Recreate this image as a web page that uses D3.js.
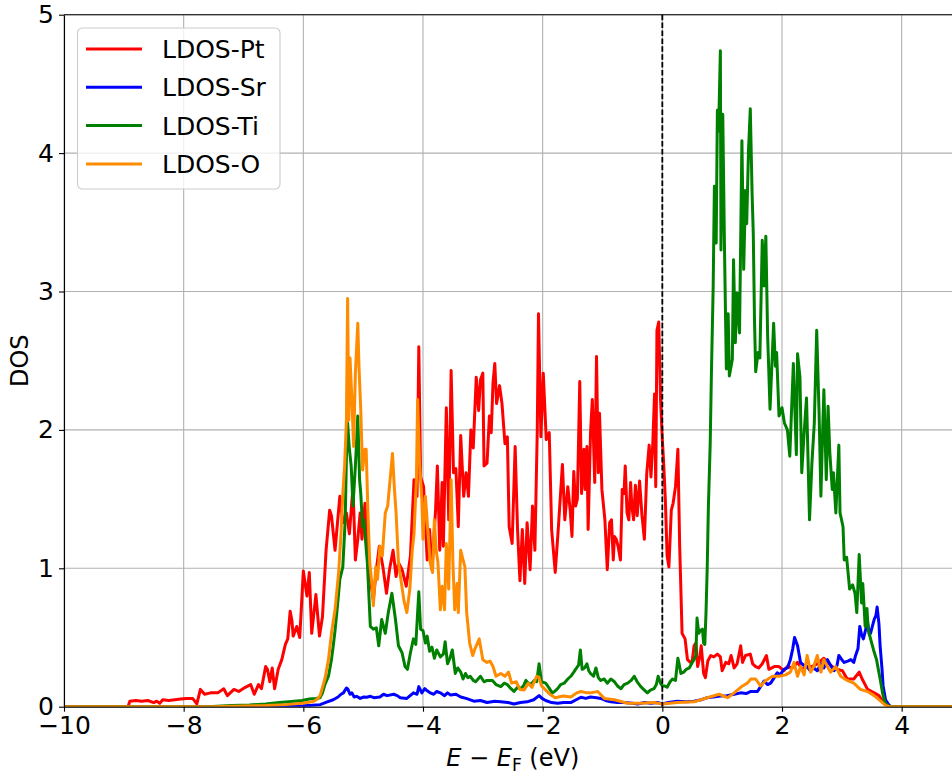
<!DOCTYPE html>
<html><head><meta charset="utf-8">
<script src="https://cdn.jsdelivr.net/npm/d3@7"></script>
<style>body{margin:0;background:#fff}svg{display:block;font-family:"DejaVu Sans",sans-serif}</style>
</head><body><svg id="chart" width="952" height="774"></svg>
<script>
const seriesNames = ["LDOS-Pt", "LDOS-Sr", "LDOS-Ti", "LDOS-O"];
const seriesColors = ["#ff0000", "#0000ff", "#008000", "#ff8c00"];
const xTicks = [-10, -8, -6, -4, -2, 0, 2, 4];
const yTicks = [0, 1, 2, 3, 4, 5];
const xDomain = [-10, 5];
const yDomain = [0, 5];
const fermiLevel = 0;

const ldosPt = [[-10,0],[-8.93,0],[-8.9,0.04],[-8.8,0.045],[-8.7,0.04],[-8.6,0.045],[-8.5,0.03],[-8.45,0.04],[-8.4,0.025],[-8.35,0.05],[-8.25,0.045],[-8.15,0.05],[-8.05,0.055],[-7.95,0.06],[-7.85,0.06],[-7.78,0.02],[-7.72,0.125],[-7.65,0.09],[-7.55,0.1],[-7.43,0.1],[-7.33,0.13],[-7.27,0.08],[-7.16,0.125],[-7.08,0.11],[-6.97,0.14],[-6.88,0.16],[-6.82,0.09],[-6.75,0.16],[-6.7,0.13],[-6.63,0.29],[-6.6,0.27],[-6.56,0.18],[-6.52,0.28],[-6.48,0.13],[-6.42,0.27],[-6.36,0.34],[-6.3,0.45],[-6.26,0.49],[-6.22,0.69],[-6.19,0.62],[-6.17,0.51],[-6.11,0.58],[-6.06,0.5],[-6.0,0.98],[-5.94,0.8],[-5.9,0.97],[-5.86,0.53],[-5.79,0.81],[-5.73,0.51],[-5.68,0.65],[-5.62,1.13],[-5.56,1.42],[-5.53,1.38],[-5.47,1.13],[-5.39,1.52],[-5.34,1.33],[-5.28,1.4],[-5.23,1.25],[-5.17,1.59],[-5.13,1.06],[-5.09,1.21],[-5.05,1.4],[-5.02,1.21],[-4.97,1.47],[-4.93,1.21],[-4.88,0.92],[-4.83,0.77],[-4.78,0.99],[-4.73,1.16],[-4.67,1.01],[-4.61,0.82],[-4.56,0.99],[-4.5,1.13],[-4.45,0.94],[-4.41,1.04],[-4.35,0.99],[-4.28,0.87],[-4.21,1.09],[-4.15,1.64],[-4.1,1.52],[-4.07,2.6],[-4.04,1.66],[-3.99,1.59],[-3.93,1.06],[-3.89,1.28],[-3.85,0.99],[-3.79,1.42],[-3.76,1.74],[-3.72,1.13],[-3.68,1.62],[-3.66,1.16],[-3.61,2.16],[-3.57,1.35],[-3.53,2.43],[-3.49,1.69],[-3.45,1.72],[-3.41,1.3],[-3.37,1.96],[-3.32,1.52],[-3.28,1.69],[-3.24,1.52],[-3.2,2.0],[-3.16,1.87],[-3.11,2.38],[-3.07,2.14],[-3.04,2.36],[-3.0,2.41],[-2.98,1.74],[-2.93,1.76],[-2.89,2.1],[-2.86,1.98],[-2.83,2.34],[-2.8,2.48],[-2.77,2.19],[-2.72,2.32],[-2.68,2.19],[-2.63,1.9],[-2.59,1.95],[-2.56,1.3],[-2.51,1.18],[-2.46,1.88],[-2.42,1.28],[-2.38,0.91],[-2.34,1.28],[-2.3,0.89],[-2.26,1.33],[-2.21,0.99],[-2.17,1.45],[-2.13,1.13],[-2.09,2.0],[-2.07,2.84],[-2.03,1.95],[-1.99,2.41],[-1.94,1.93],[-1.89,1.98],[-1.85,1.28],[-1.79,0.97],[-1.74,1.28],[-1.67,1.75],[-1.63,1.35],[-1.58,1.59],[-1.54,1.42],[-1.51,1.23],[-1.48,1.7],[-1.45,1.45],[-1.42,1.5],[-1.38,2.35],[-1.35,1.54],[-1.31,1.86],[-1.29,1.57],[-1.26,1.88],[-1.24,1.28],[-1.2,1.98],[-1.17,2.22],[-1.13,1.62],[-1.1,2.53],[-1.07,1.69],[-1.05,2.12],[-1.01,1.57],[-0.96,1.35],[-0.92,0.99],[-0.88,1.33],[-0.85,1.35],[-0.82,1.06],[-0.8,1.23],[-0.77,1.21],[-0.74,1.16],[-0.7,1.06],[-0.67,1.57],[-0.64,1.54],[-0.62,1.74],[-0.59,1.4],[-0.56,1.35],[-0.53,1.62],[-0.51,1.45],[-0.48,1.35],[-0.45,1.6],[-0.42,1.38],[-0.38,1.63],[-0.34,1.38],[-0.3,1.21],[-0.26,1.69],[-0.22,1.89],[-0.19,1.66],[-0.16,1.9],[-0.13,2.26],[-0.11,1.59],[-0.09,2.72],[-0.06,2.78],[-0.03,2.22],[0.0,1.93],[0.02,1.78],[0.05,1.5],[0.08,1.09],[0.11,1.01],[0.15,1.42],[0.18,1.47],[0.22,1.59],[0.26,1.86],[0.29,1.16],[0.33,0.53],[0.38,0.49],[0.42,0.34],[0.47,0.32],[0.5,0.33],[0.53,0.44],[0.56,0.46],[0.59,0.29],[0.63,0.37],[0.65,0.44],[0.69,0.24],[0.72,0.21],[0.76,0.33],[0.81,0.37],[0.86,0.36],[0.92,0.38],[0.97,0.36],[1.0,0.26],[1.06,0.32],[1.11,0.31],[1.15,0.37],[1.2,0.28],[1.25,0.31],[1.31,0.44],[1.34,0.32],[1.39,0.37],[1.47,0.38],[1.51,0.31],[1.56,0.29],[1.61,0.28],[1.67,0.31],[1.74,0.37],[1.78,0.27],[1.87,0.29],[1.95,0.29],[2.03,0.26],[2.09,0.29],[2.17,0.28],[2.26,0.32],[2.34,0.27],[2.42,0.29],[2.5,0.29],[2.59,0.31],[2.7,0.35],[2.76,0.32],[2.84,0.29],[2.93,0.27],[3.01,0.26],[3.09,0.2],[3.2,0.2],[3.29,0.25],[3.34,0.2],[3.43,0.125],[3.54,0.1],[3.62,0.08],[3.68,0.04],[3.73,0.02],[3.79,0.005],[3.82,0],[5.0,0]];

const ldosSr = [[-10,0],[-7.0,0],[-6.2,0.003],[-6.0,0.006],[-5.85,0.01],[-5.72,0.015],[-5.6,0.035],[-5.5,0.05],[-5.42,0.07],[-5.37,0.09],[-5.33,0.1],[-5.28,0.135],[-5.26,0.13],[-5.22,0.09],[-5.19,0.1],[-5.15,0.07],[-5.11,0.075],[-5.05,0.06],[-4.99,0.07],[-4.94,0.068],[-4.88,0.075],[-4.82,0.065],[-4.72,0.07],[-4.66,0.09],[-4.6,0.08],[-4.49,0.09],[-4.43,0.08],[-4.38,0.065],[-4.27,0.06],[-4.16,0.1],[-4.1,0.09],[-4.07,0.145],[-4.02,0.1],[-3.97,0.13],[-3.93,0.115],[-3.88,0.1],[-3.82,0.09],[-3.77,0.11],[-3.71,0.1],[-3.64,0.08],[-3.59,0.1],[-3.54,0.085],[-3.45,0.09],[-3.37,0.07],[-3.28,0.06],[-3.15,0.04],[-3.04,0.045],[-2.93,0.03],[-2.8,0.04],[-2.7,0.035],[-2.58,0.03],[-2.48,0.02],[-2.37,0.03],[-2.26,0.035],[-2.15,0.05],[-2.06,0.08],[-2.01,0.06],[-1.95,0.045],[-1.85,0.03],[-1.75,0.025],[-1.65,0.03],[-1.53,0.03],[-1.44,0.05],[-1.36,0.068],[-1.28,0.06],[-1.2,0.07],[-1.1,0.065],[-1.03,0.06],[-0.95,0.045],[-0.86,0.035],[-0.75,0.03],[-0.64,0.03],[-0.5,0.025],[-0.41,0.02],[-0.3,0.03],[-0.19,0.025],[-0.08,0.03],[0.0,0.02],[0.1,0.03],[0.25,0.04],[0.4,0.035],[0.53,0.04],[0.65,0.05],[0.75,0.065],[0.85,0.07],[0.97,0.077],[1.08,0.08],[1.2,0.09],[1.31,0.1],[1.4,0.095],[1.48,0.11],[1.59,0.11],[1.65,0.15],[1.7,0.185],[1.76,0.16],[1.81,0.17],[1.87,0.21],[1.92,0.245],[1.97,0.23],[2.03,0.27],[2.09,0.28],[2.14,0.34],[2.18,0.42],[2.21,0.5],[2.26,0.44],[2.31,0.32],[2.36,0.3],[2.42,0.29],[2.47,0.26],[2.53,0.28],[2.59,0.26],[2.65,0.31],[2.7,0.28],[2.76,0.34],[2.81,0.3],[2.87,0.26],[2.92,0.3],[2.95,0.37],[3.0,0.34],[3.04,0.32],[3.1,0.33],[3.15,0.34],[3.2,0.32],[3.23,0.37],[3.27,0.42],[3.3,0.58],[3.33,0.52],[3.36,0.49],[3.4,0.56],[3.43,0.61],[3.46,0.52],[3.48,0.53],[3.51,0.58],[3.54,0.63],[3.57,0.66],[3.59,0.72],[3.62,0.6],[3.64,0.44],[3.67,0.28],[3.69,0.15],[3.73,0.05],[3.79,0.01],[3.83,0],[5.0,0]];

const ldosTi = [[-10,0],[-7.6,0],[-7.2,0.008],[-6.9,0.012],[-6.63,0.02],[-6.4,0.03],[-6.2,0.038],[-6.02,0.045],[-5.9,0.055],[-5.79,0.06],[-5.72,0.065],[-5.68,0.1],[-5.64,0.16],[-5.58,0.22],[-5.53,0.34],[-5.5,0.44],[-5.47,0.55],[-5.44,0.68],[-5.41,0.82],[-5.39,0.92],[-5.34,1.01],[-5.3,1.35],[-5.28,1.8],[-5.26,2.05],[-5.23,1.86],[-5.2,1.74],[-5.17,1.45],[-5.13,1.74],[-5.09,2.1],[-5.06,1.64],[-5.04,1.54],[-5.01,1.3],[-4.99,1.35],[-4.97,1.25],[-4.93,1.04],[-4.88,0.58],[-4.83,0.56],[-4.78,0.57],[-4.74,0.44],[-4.69,0.63],[-4.63,0.53],[-4.58,0.68],[-4.52,0.82],[-4.46,0.63],[-4.41,0.44],[-4.35,0.39],[-4.3,0.29],[-4.26,0.27],[-4.21,0.39],[-4.16,0.49],[-4.12,0.45],[-4.07,0.83],[-4.04,0.56],[-4.0,0.55],[-3.96,0.46],[-3.93,0.51],[-3.89,0.4],[-3.85,0.43],[-3.81,0.35],[-3.77,0.41],[-3.71,0.36],[-3.66,0.38],[-3.63,0.47],[-3.59,0.31],[-3.55,0.35],[-3.51,0.41],[-3.46,0.24],[-3.42,0.28],[-3.37,0.25],[-3.33,0.2],[-3.29,0.24],[-3.25,0.21],[-3.21,0.22],[-3.16,0.19],[-3.12,0.18],[-3.08,0.2],[-3.04,0.22],[-2.98,0.18],[-2.93,0.19],[-2.84,0.19],[-2.78,0.16],[-2.7,0.145],[-2.64,0.17],[-2.59,0.16],[-2.53,0.13],[-2.48,0.11],[-2.42,0.14],[-2.37,0.13],[-2.32,0.15],[-2.28,0.19],[-2.24,0.17],[-2.2,0.16],[-2.14,0.19],[-2.1,0.18],[-2.06,0.31],[-2.02,0.18],[-1.95,0.17],[-1.9,0.14],[-1.84,0.1],[-1.8,0.11],[-1.75,0.13],[-1.7,0.16],[-1.64,0.17],[-1.58,0.2],[-1.53,0.22],[-1.48,0.25],[-1.45,0.27],[-1.4,0.3],[-1.37,0.41],[-1.34,0.27],[-1.3,0.28],[-1.26,0.31],[-1.23,0.26],[-1.2,0.24],[-1.15,0.22],[-1.11,0.28],[-1.07,0.21],[-1.03,0.19],[-0.97,0.2],[-0.92,0.17],[-0.86,0.2],[-0.8,0.18],[-0.75,0.15],[-0.69,0.13],[-0.64,0.16],[-0.58,0.17],[-0.52,0.19],[-0.47,0.22],[-0.42,0.18],[-0.36,0.145],[-0.3,0.12],[-0.25,0.1],[-0.2,0.12],[-0.14,0.13],[-0.1,0.16],[-0.07,0.22],[-0.03,0.17],[0.0,0.15],[0.04,0.15],[0.08,0.14],[0.13,0.18],[0.17,0.2],[0.22,0.19],[0.26,0.35],[0.28,0.31],[0.31,0.24],[0.36,0.25],[0.4,0.27],[0.45,0.28],[0.5,0.32],[0.53,0.34],[0.56,0.37],[0.58,0.64],[0.61,0.53],[0.63,0.55],[0.67,0.56],[0.69,0.46],[0.71,0.45],[0.73,0.68],[0.75,1.0],[0.77,1.45],[0.8,1.9],[0.82,2.4],[0.85,3.04],[0.87,3.76],[0.9,3.35],[0.92,4.31],[0.94,4.16],[0.97,4.74],[0.98,3.3],[1.01,4.28],[1.04,3.28],[1.07,2.44],[1.1,2.84],[1.12,2.39],[1.17,2.51],[1.19,3.23],[1.22,2.63],[1.25,2.99],[1.29,2.7],[1.33,4.09],[1.36,3.16],[1.39,3.73],[1.41,3.49],[1.44,4.02],[1.47,4.32],[1.5,3.71],[1.52,3.42],[1.54,2.8],[1.56,2.42],[1.6,2.56],[1.63,2.52],[1.67,3.37],[1.7,3.04],[1.73,3.4],[1.76,2.68],[1.8,2.15],[1.86,2.77],[1.89,2.46],[1.91,2.56],[1.95,2.1],[2.0,2.16],[2.04,2.05],[2.09,2.0],[2.13,1.81],[2.19,2.48],[2.24,1.82],[2.26,2.55],[2.3,2.38],[2.33,1.69],[2.37,1.98],[2.41,2.23],[2.46,1.35],[2.5,1.76],[2.54,2.05],[2.58,2.72],[2.62,2.12],[2.65,1.52],[2.68,2.0],[2.7,2.29],[2.74,1.64],[2.77,2.17],[2.8,1.83],[2.84,1.57],[2.86,1.69],[2.9,1.4],[2.95,1.89],[2.97,1.4],[3.02,1.3],[3.04,1.06],[3.08,1.08],[3.13,0.85],[3.18,0.88],[3.22,0.82],[3.25,0.68],[3.29,1.1],[3.33,0.75],[3.35,0.89],[3.39,0.58],[3.42,0.71],[3.44,0.56],[3.48,0.49],[3.53,0.41],[3.58,0.34],[3.64,0.2],[3.68,0.1],[3.72,0.03],[3.78,0.005],[3.82,0],[5.0,0]];

const ldosO = [[-10,0],[-7.5,0],[-7.0,0.005],[-6.63,0.008],[-6.3,0.015],[-6.02,0.025],[-5.85,0.035],[-5.78,0.05],[-5.72,0.08],[-5.69,0.125],[-5.64,0.2],[-5.58,0.34],[-5.53,0.53],[-5.47,0.7],[-5.41,0.97],[-5.37,1.25],[-5.34,1.54],[-5.31,1.74],[-5.28,2.07],[-5.26,2.95],[-5.24,2.07],[-5.22,2.52],[-5.19,2.24],[-5.16,1.88],[-5.13,2.41],[-5.09,2.77],[-5.07,2.46],[-5.04,2.14],[-5.01,1.71],[-4.97,1.86],[-4.95,1.86],[-4.92,1.4],[-4.89,1.04],[-4.85,0.87],[-4.83,0.73],[-4.79,1.01],[-4.76,0.92],[-4.72,1.16],[-4.68,1.09],[-4.63,1.4],[-4.59,1.45],[-4.55,1.64],[-4.51,1.83],[-4.48,1.59],[-4.45,1.4],[-4.41,1.04],[-4.37,0.92],[-4.32,0.77],[-4.27,0.68],[-4.22,0.85],[-4.18,1.13],[-4.15,1.25],[-4.11,1.64],[-4.09,2.22],[-4.06,1.78],[-4.02,1.5],[-4.0,1.21],[-3.96,1.52],[-3.92,1.28],[-3.88,1.04],[-3.84,0.97],[-3.81,1.35],[-3.78,1.13],[-3.75,1.04],[-3.71,0.7],[-3.68,0.87],[-3.64,0.7],[-3.61,1.18],[-3.57,0.85],[-3.53,1.64],[-3.5,1.04],[-3.47,0.7],[-3.43,0.89],[-3.41,0.68],[-3.37,1.13],[-3.33,1.06],[-3.3,1.01],[-3.27,0.68],[-3.22,0.46],[-3.17,0.37],[-3.13,0.42],[-3.06,0.49],[-3.0,0.34],[-2.93,0.32],[-2.88,0.33],[-2.83,0.29],[-2.78,0.22],[-2.7,0.24],[-2.63,0.22],[-2.57,0.25],[-2.52,0.17],[-2.44,0.18],[-2.38,0.125],[-2.31,0.12],[-2.24,0.17],[-2.18,0.14],[-2.1,0.22],[-2.06,0.21],[-2.02,0.15],[-1.96,0.125],[-1.88,0.09],[-1.79,0.065],[-1.66,0.077],[-1.53,0.07],[-1.43,0.1],[-1.36,0.11],[-1.26,0.1],[-1.2,0.1],[-1.08,0.11],[-0.97,0.06],[-0.8,0.05],[-0.58,0.025],[-0.36,0.025],[-0.14,0.03],[0.0,0.02],[0.25,0.03],[0.53,0.035],[0.75,0.065],[0.95,0.09],[1.09,0.065],[1.2,0.1],[1.34,0.15],[1.42,0.17],[1.48,0.2],[1.56,0.2],[1.64,0.15],[1.73,0.19],[1.84,0.22],[1.95,0.22],[2.06,0.23],[2.14,0.25],[2.2,0.32],[2.26,0.22],[2.31,0.29],[2.37,0.23],[2.42,0.37],[2.48,0.25],[2.53,0.29],[2.59,0.37],[2.65,0.25],[2.7,0.34],[2.76,0.29],[2.81,0.25],[2.9,0.29],[2.98,0.22],[3.09,0.19],[3.2,0.17],[3.31,0.125],[3.43,0.11],[3.54,0.08],[3.65,0.04],[3.73,0.01],[3.8,0],[5.0,0]];

const seriesData = [ldosPt, ldosSr, ldosTi, ldosO];

const svg = d3.select("#chart");
const plot = {left: 64, right: 961.5, top: 14.7, bottom: 706.7};
const x = d3.scaleLinear().domain(xDomain).range([plot.left, plot.right]);
const y = d3.scaleLinear().domain(yDomain).range([plot.bottom, plot.top]);
const fmt = v => (v < 0 ? "\u2212" + Math.abs(v) : String(v));

svg.append("defs").append("clipPath").attr("id", "clip")
  .append("rect").attr("x", plot.left).attr("y", plot.top)
  .attr("width", plot.right - plot.left).attr("height", plot.bottom - plot.top);

// grid
const grid = svg.append("g").attr("stroke", "#b0b0b0").attr("stroke-width", 1.1);
grid.selectAll(".gx").data(xTicks).join("line")
  .attr("x1", d => x(d)).attr("x2", d => x(d)).attr("y1", plot.top).attr("y2", plot.bottom);
grid.selectAll(".gy").data(yTicks).join("line")
  .attr("x1", plot.left).attr("x2", plot.right).attr("y1", d => y(d)).attr("y2", d => y(d));

// curves
const line = d3.line().x(d => x(d[0])).y(d => y(d[1]));
const curves = svg.append("g").attr("clip-path", "url(#clip)");
seriesData.forEach((data, i) => {
  curves.append("path").datum(data).attr("d", line)
    .attr("fill", "none").attr("stroke", seriesColors[i])
    .attr("stroke-width", 3).attr("stroke-linejoin", "round").attr("stroke-linecap", "round");
});

// Fermi level
svg.append("line").attr("x1", x(fermiLevel)).attr("x2", x(fermiLevel))
  .attr("y1", plot.top).attr("y2", plot.bottom)
  .attr("stroke", "#000").attr("stroke-width", 1.8).attr("stroke-dasharray", "5.5,2.4");

// axes
const xAxis = svg.append("g").attr("transform", `translate(0,${plot.bottom})`)
  .call(d3.axisBottom(x).tickValues(xTicks).tickFormat(fmt).tickSize(5).tickSizeOuter(0).tickPadding(5));
const yAxis = svg.append("g").attr("transform", `translate(${plot.left},0)`)
  .call(d3.axisLeft(y).tickValues(yTicks).tickFormat(fmt).tickSize(5).tickSizeOuter(0).tickPadding(5));
[xAxis, yAxis].forEach(a => {
  a.selectAll("text").attr("font-size", 25).attr("fill", "#000").attr("font-family", '"DejaVu Sans", sans-serif');
  a.selectAll("line").attr("stroke", "#000").attr("stroke-width", 1.1);
  a.select(".domain").attr("stroke", "#000").attr("stroke-width", 1.1);
});
svg.append("line").attr("x1", plot.left).attr("x2", plot.right).attr("y1", plot.top).attr("y2", plot.top)
  .attr("stroke", "#000").attr("stroke-width", 1.1);
svg.append("line").attr("x1", plot.right).attr("x2", plot.right).attr("y1", plot.top).attr("y2", plot.bottom)
  .attr("stroke", "#000").attr("stroke-width", 1.1);

// axis labels
const xl = svg.append("text").attr("x", (plot.left + plot.right) / 2).attr("y", 766)
  .attr("text-anchor", "middle").attr("font-size", 24).attr("fill", "#000");
xl.append("tspan").attr("font-style", "italic").text("E");
xl.append("tspan").text(" \u2212 ");
xl.append("tspan").attr("font-style", "italic").text("E");
xl.append("tspan").attr("font-size", 17).attr("dy", 5).text("F");
xl.append("tspan").attr("dy", -5).text(" (eV)");

svg.append("text").attr("transform", `translate(28,${(plot.top + plot.bottom) / 2}) rotate(-90)`)
  .attr("text-anchor", "middle").attr("font-size", 24).attr("fill", "#000").text("DOS");

// legend
const lg = svg.append("g");
lg.append("rect").attr("x", 77.5).attr("y", 28).attr("width", 202.5).attr("height", 161)
  .attr("rx", 5).attr("fill", "#fff").attr("fill-opacity", 0.8).attr("stroke", "#cccccc").attr("stroke-width", 1.1);
seriesNames.forEach((name, i) => {
  const yy = 49 + i * 38.3;
  lg.append("line").attr("x1", 86).attr("x2", 142).attr("y1", yy).attr("y2", yy)
    .attr("stroke", seriesColors[i]).attr("stroke-width", 3);
  lg.append("text").attr("x", 162).attr("y", yy).attr("dy", "0.36em")
    .attr("font-size", 25).attr("fill", "#000").text(name);
});
</script></body></html>
